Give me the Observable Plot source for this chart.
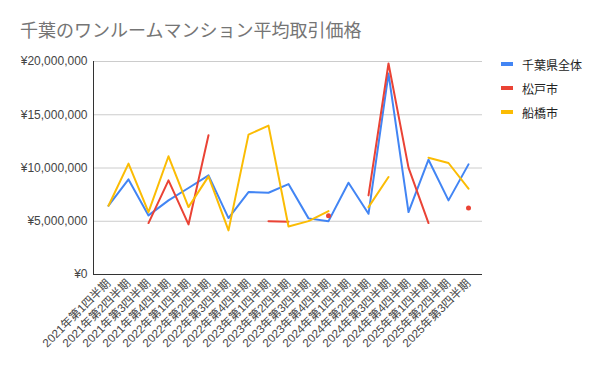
<!DOCTYPE html>
<html>
<head>
<meta charset="utf-8">
<script src="https://cdn.jsdelivr.net/npm/d3@7"></script>
<script src="https://cdn.jsdelivr.net/npm/@observablehq/plot@0.6"></script>
<style>
  body { margin: 0; background: #fff; }
  #wrap { position: relative; width: 600px; height: 371px; overflow: hidden; font-family: Arial, "Liberation Sans", "Noto Sans CJK JP", sans-serif; }
  #title { height: 50px; box-sizing: border-box; padding: 22px 0 0 20px; font-size: 18px; line-height: 18px; color: #757575; font-family: Roboto, Arial, "Noto Sans CJK JP", sans-serif; }
  #legend { position: absolute; left: 501px; top: 52px; font-size: 12px; color: #222; }
  .item { height: 24px; display: flex; align-items: center; }
  .sw { width: 12px; height: 4px; margin-right: 9px; }
  .xax text { font-size: 11.6px; }
</style>
</head>
<body>
<div id="wrap">
  <div id="title"></div>
  <div id="chart"></div>
  <div id="legend"></div>
</div>
<script>
const title = "千葉のワンルームマンション平均取引価格";
const quarters = [
  "2021年第1四半期","2021年第2四半期","2021年第3四半期","2021年第4四半期",
  "2022年第1四半期","2022年第2四半期","2022年第3四半期","2022年第4四半期",
  "2023年第1四半期","2023年第2四半期","2023年第3四半期","2023年第4四半期",
  "2024年第1四半期","2024年第2四半期","2024年第3四半期","2024年第4四半期",
  "2025年第1四半期","2025年第2四半期","2025年第3四半期"
];
const seriesNames = ["千葉県全体", "松戸市", "船橋市"];
const seriesColors = ["#4285F4", "#EA4335", "#FBBC04"];
const chiba = [6460000, 8930000, 5550000, 6960000, 8120000, 9310000, 5300000, 7740000, 7680000, 8490000,
               5270000, 5010000, 8620000, 5700000, 18870000, 5860000, 10780000, 6960000, 10340000];
const matsudo = [null, null, 4830000, 8840000, 4700000, 13070000, null, null, 5010000, 4950000,
                 null, 5520000, null, 7430000, 19810000, 10030000, 4830000, null, 6240000];
const funabashi = [6460000, 10410000, 5860000, 11100000, 6330000, 9210000, 4140000, 13130000, 13980000, 4510000,
                   5010000, 5950000, null, 6330000, 9150000, null, 10970000, 10470000, 8060000];
const yTicks = [0, 5000000, 10000000, 15000000, 20000000];

const seriesValues = [chiba, matsudo, funabashi];
const rows = [];
const isolated = [];
seriesValues.forEach((vals, si) => {
  vals.forEach((v, i) => {
    rows.push({q: quarters[i], v: v == null ? NaN : v, s: seriesNames[si]});
    if (v != null && vals[i - 1] == null && vals[i + 1] == null) {
      isolated.push({q: quarters[i], v, s: seriesNames[si]});
    }
  });
});

document.getElementById("title").textContent = title;

const chart = Plot.plot({
  width: 600,
  height: 321,
  marginTop: 11,
  marginBottom: 97,
  marginLeft: 93,
  marginRight: 118,
  style: {fontFamily: 'Arial, "Liberation Sans", "Noto Sans CJK JP", sans-serif', fontSize: "12px", color: "#222", background: "transparent"},
  x: {type: "point", domain: quarters, padding: 0.5, label: null},
  y: {domain: [0, 20000000], label: null},
  color: {domain: seriesNames, range: seriesColors},
  marks: [
    Plot.gridY({ticks: yTicks, stroke: "#ccc", strokeOpacity: 1}),
    Plot.axisY({ticks: yTicks, tickFormat: d => "¥" + d3.format(",")(d), tickSize: 0, tickPadding: 6, label: null, fill: "#444"}),
    Plot.axisX({tickRotate: -45, tickSize: 0, tickPadding: 7, label: null, fill: "#444", className: "xax"}),
    Plot.line(rows, {x: "q", y: "v", stroke: "s", z: "s", strokeWidth: 2, strokeLinejoin: "round"}),
    Plot.dot(isolated, {x: "q", y: "v", fill: "s", r: 2.5, stroke: null}),
    Plot.ruleY([0], {stroke: "#333"}),
    Plot.frame({anchor: "left", stroke: "#333"})
  ]
});
document.getElementById("chart").appendChild(chart);

const legend = document.getElementById("legend");
seriesNames.forEach((n, i) => {
  const it = document.createElement("div");
  it.className = "item";
  const sw = document.createElement("div");
  sw.className = "sw";
  sw.style.background = seriesColors[i];
  const tx = document.createElement("span");
  tx.textContent = n;
  it.appendChild(sw);
  it.appendChild(tx);
  legend.appendChild(it);
});
</script>
</body>
</html>
